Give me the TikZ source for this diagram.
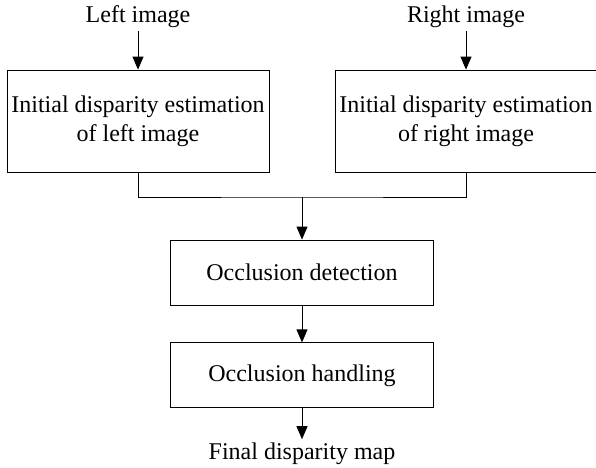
\documentclass[tikz,border=0pt]{standalone}
\usepackage{fontspec}
\setmainfont{Liberation Serif}
\usetikzlibrary{arrows.meta,positioning}
\tikzset{
    block/.style = {draw, rectangle, line width=0.8pt,
        minimum height=102pt,
        minimum width=262pt, align=center, inner sep=0pt},
    smallblock/.style = {block, minimum height=65pt, minimum width=263pt},
    label/.style = {inner sep=3pt},
    line/.style = {draw, line width=0.8pt},
    arrow/.style = {line, -{Triangle[length=13pt,width=11pt]}}
}

\begin{document}
\begin{tikzpicture}[x=1pt, y=1pt, font=\fontsize{24}{29}\selectfont]
    \useasboundingbox (0,0) rectangle (596,-467);
    \node [label] (limg) at (138,-17) {Left image};
    \node [label] (rimg) at (466,-17) {Right image};
    \node [block] (lest) at (138,-121) {Initial disparity estimation\\of left image};
    \node [block] (rest) at (466,-121) {Initial disparity estimation\\of right image};
    \draw [arrow] (limg) -- (lest);
    \draw [arrow] (rimg) -- (rest);
    % merge both estimates
    \coordinate (join) at (302,-197);
    \draw [line] (lest.south) |- (join) -| (rest.south);
    \node [smallblock] (detect) at (302,-272.5) {Occlusion detection};
    \draw [arrow] (join) -- (detect);
    \node [smallblock, below=37pt of detect] (handle) {Occlusion handling};
    \draw [arrow] (detect) -- (handle);
    \node [label, below=31pt of handle] (final) {Final disparity map};
    \draw [arrow] (handle) -- (final);
\end{tikzpicture}
\end{document}
